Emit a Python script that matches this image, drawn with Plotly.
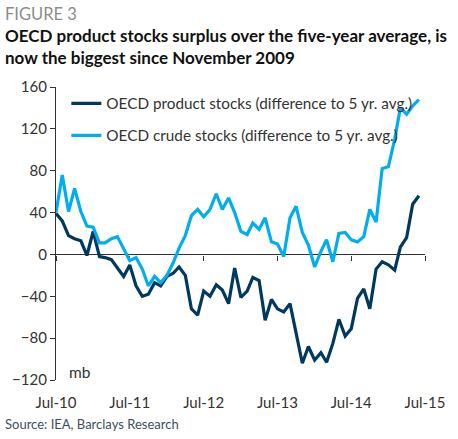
import plotly.graph_objects as go
import pandas as pd

months = pd.date_range("2010-07-01", "2015-06-01", freq="MS")

product_stocks = [39, 32, 18, 15, 13, -1, 22, -2, -3, -5,
                  -13, -21, -10, -30, -40, -38, -27, -30, -21, -18,
                  -12, -20, -52, -58, -35, -40, -29, -34, -47, -13,
                  -41, -35, -22, -25, -63, -43, -52, -55, -47, -77,
                  -104, -88, -101, -94, -103, -85, -62, -78, -71, -42,
                  -33, -52, -14, -7, -10, -15, 7, 16, 48, 56]

crude_stocks = [40, 76, 41, 63, 41, 27, 26, 11, 11, 15,
                17, 6, -6, -3, -14, -30, -21, -27, -20, -8,
                6, 18, 37, 43, 36, 43, 58, 43, 54, 40,
                22, 19, 30, 24, 35, 12, 10, -2, 35, 46,
                21, 9, -12, 3, 14, -7, 20, 21, 14, 12,
                17, 43, 31, 82, 84, 110, 140, 134, 142, 148]

tick_dates = ["2010-07-01", "2011-07-01", "2012-07-01",
              "2013-07-01", "2014-07-01", "2015-07-01"]
tick_labels = ["Jul-10", "Jul-11", "Jul-12", "Jul-13", "Jul-14", "Jul-15"]

FONT = "Lato"
DARK = "#00395D"
LIGHT = "#00AEEF"
AX = "#333333"

fig = go.Figure()
# helper trace so the zero-crossing axis (x2) gets drawn
fig.add_trace(go.Scatter(x=months, y=product_stocks, mode="lines", xaxis="x2",
                         line=dict(width=0), opacity=0, showlegend=False,
                         hoverinfo="skip"))
fig.add_trace(go.Scatter(x=months, y=product_stocks, mode="lines",
                         name="OECD product stocks (difference to 5 yr. avg.)",
                         line=dict(color=DARK, width=3.2), legendgroup="a"))
fig.add_trace(go.Scatter(x=months, y=crude_stocks, mode="lines",
                         name="OECD crude stocks (difference to 5 yr. avg.)",
                         line=dict(color=LIGHT, width=3.2), legendgroup="b"))

xrange = [tick_dates[0], tick_dates[-1]]

fig.update_layout(
    width=458, height=439,
    margin=dict(l=53, r=26, t=87, b=59),
    paper_bgcolor="white", plot_bgcolor="white",
    font=dict(family=FONT, size=15, color=AX),
    showlegend=True,
    legend=dict(x=0.028, y=1.0, xanchor="left", yanchor="top",
                bgcolor="rgba(0,0,0,0)", font=dict(size=15.3, color=AX),
                tracegroupgap=9),
    xaxis=dict(type="date", range=xrange, tickvals=tick_dates, ticktext=tick_labels,
               showline=False, showgrid=False, zeroline=False, ticks="",
               ticklabelstandoff=12, tickfont=dict(size=15, color=AX)),
    xaxis2=dict(type="date", range=xrange, overlaying="x", anchor="free",
                position=120 / 280, tickvals=tick_dates, showticklabels=False,
                showline=True, linecolor=AX, linewidth=1.2, ticks="outside",
                ticklen=5, tickcolor=AX, showgrid=False, zeroline=False,
                layer="below traces"),
    yaxis=dict(range=[-120, 160], dtick=40, showline=True, linecolor=AX, linewidth=1.2,
               ticks="outside", ticklen=5, tickcolor=AX, showgrid=False,
               zeroline=False, tickfont=dict(size=15, color=AX)),
)

ann = [
    dict(text="FIGURE 3", x=-0.143, y=1.249, font=dict(size=16.5, color="#8c8c8c")),
    dict(text="<b>OECD product stocks surplus over the five-year average, is</b>",
         x=-0.143, y=1.176, font=dict(size=17, color="#111111")),
    dict(text="<b>now the biggest since November 2009</b>",
         x=-0.143, y=1.099, font=dict(size=17, color="#111111")),
    dict(text="mb", x=0.031, y=0.026, font=dict(size=15.5, color=AX)),
    dict(text="Source: IEA, Barclays Research", x=-0.143, y=-0.150,
         font=dict(size=13, color="#3d4f5f")),
]
for a in ann:
    fig.add_annotation(xref="paper", yref="paper", xanchor="left", yanchor="middle",
                       showarrow=False, **a)

fig.write_html("out.html", config={"displayModeBar": False},
               post_script="document.body.style.margin='0';")
